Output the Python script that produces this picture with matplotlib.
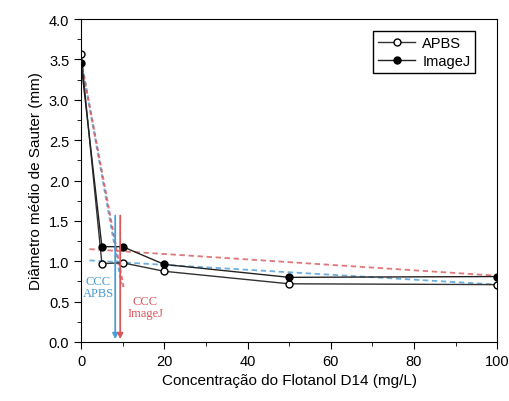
import numpy as np
import matplotlib.pyplot as plt
from matplotlib.ticker import MultipleLocator

plt.rcParams['font.family'] = ['Liberation Sans', 'DejaVu Sans']

# dados
conc = [0, 5, 10, 20, 50, 100]
apbs = [3.57, 0.97, 0.98, 0.875, 0.72, 0.71]
imagej = [3.45, 1.18, 1.18, 0.96, 0.80, 0.81]

# linhas de tendência (tracejadas)
apbs_steep_x = [0, 9.7]
apbs_steep_y = [3.5, 0.72]
apbs_flat_x = [2, 100]
apbs_flat_y = [1.01, 0.71]
imagej_steep_x = [0, 10.2]
imagej_steep_y = [3.48, 0.68]
imagej_flat_x = [2, 100]
imagej_flat_y = [1.15, 0.82]

ccc_apbs = 8.2
ccc_imagej = 9.4

blue = '#4a9bd6'
red = '#d9565a'

fig = plt.figure(figsize=(5.1, 4.02), dpi=100)
ax = fig.add_axes([0.159, 0.147, 0.816, 0.803])

ax.plot(apbs_steep_x, apbs_steep_y, ls='--', color=blue, lw=1.5, alpha=0.8, dashes=(2, 1.5))
ax.plot(imagej_steep_x, imagej_steep_y, ls='--', color=red, lw=1.5, alpha=0.8, dashes=(2, 1.5))
ax.plot(apbs_flat_x, apbs_flat_y, ls='--', color=blue, lw=1.3, alpha=0.8, dashes=(3, 2))
ax.plot(imagej_flat_x, imagej_flat_y, ls='--', color=red, lw=1.3, alpha=0.8, dashes=(3, 2))

ax.plot(conc, apbs, '-o', color='#333333', lw=1, ms=5, mfc='white', mec='black', label='APBS')
ax.plot(conc, imagej, '-o', color='#222222', lw=1, ms=5, mfc='black', mec='black', label='ImageJ')

# setas da CCC
ax.annotate('', xy=(ccc_apbs, 0), xytext=(ccc_apbs, 1.6),
            arrowprops=dict(arrowstyle='-|>', color=blue, lw=1.3, mutation_scale=8))
ax.annotate('', xy=(ccc_imagej, 0), xytext=(ccc_imagej, 1.6),
            arrowprops=dict(arrowstyle='-|>', color=red, lw=1.3, mutation_scale=8))
ax.text(4.1, 0.68, 'CCC\nAPBS', color=blue, ha='center', va='center',
        family='Liberation Serif', fontsize=9, linespacing=1.05)
ax.text(15.4, 0.43, 'CCC\nImageJ', color=red, ha='center', va='center',
        family='Liberation Serif', fontsize=9, linespacing=1.05)

ax.set_xlim(0, 100)
ax.set_ylim(0, 4.0)
ax.xaxis.set_major_locator(MultipleLocator(20))
ax.xaxis.set_minor_locator(MultipleLocator(10))
ax.yaxis.set_major_locator(MultipleLocator(0.5))
ax.yaxis.set_minor_locator(MultipleLocator(0.25))
ax.yaxis.set_major_formatter(plt.FormatStrFormatter('%.1f'))
ax.tick_params(which='major', length=5, labelsize=10.5)
ax.tick_params(which='minor', length=3)

ax.set_xlabel('Concentração do Flotanol D14 (mg/L)', fontsize=11)
ax.set_ylabel('Diâmetro médio de Sauter (mm)', fontsize=11)

leg = ax.legend(loc='upper right', fontsize=10.5, fancybox=False, edgecolor='black',
                framealpha=1, handlelength=2.5, borderpad=0.35, labelspacing=0.25,
                handletextpad=0.5, bbox_to_anchor=(0.965, 0.985))
leg.get_frame().set_linewidth(1)

fig.savefig('out.png', dpi=100)
